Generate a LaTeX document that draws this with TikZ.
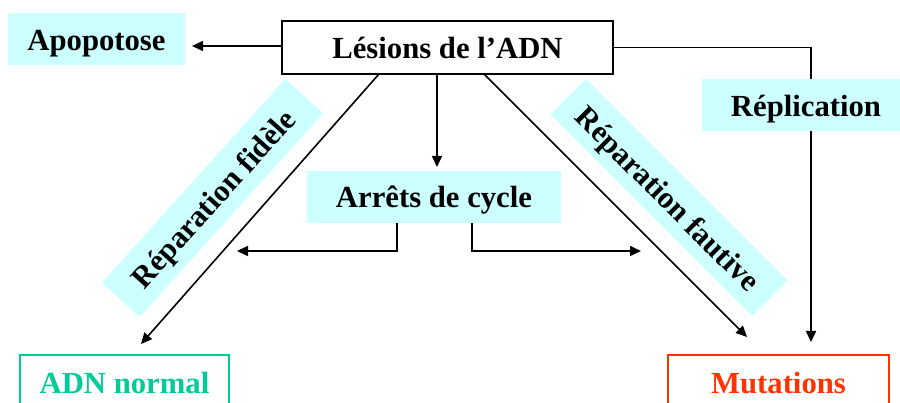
\documentclass[tikz,border=0pt]{standalone}
\usepackage{fontspec}
\setmainfont{Liberation Serif}
\usetikzlibrary{arrows.meta}
\definecolor{cybg}{HTML}{CCFFFF}
\definecolor{grn}{HTML}{00CC99}
\definecolor{rd}{HTML}{FF3300}
\tikzset{
  lbl/.style={font=\fontsize{30.7}{36}\selectfont\bfseries, inner sep=0pt, align=center, text height=37pt, text depth=14pt},
  cybox/.style={lbl, fill=cybg},
  wbox/.style={lbl, draw=black, fill=white, line width=1.6pt},
  conn/.style={line width=1.6pt, -{Triangle[length=11pt,width=10pt]}},
  plain/.style={line width=1.6pt}
}
\begin{document}
\begin{tikzpicture}[x=1pt,y=-1pt]
\useasboundingbox (0,0) rectangle (900,403);
% nodes
\node[cybox, text height=38pt, minimum width=177pt] (apo) at (96.5,39) {Apopotose};
\node[wbox, text height=38pt, text depth=15pt, minimum width=331pt] (les) at (447.5,47.5) {Lésions de l’ADN};
\node[cybox, text depth=15pt, minimum width=254pt] (arr) at (434,197) {Arrêts de cycle};
\node[lbl, draw=grn, text=grn, line width=1.6pt, text height=38pt, text depth=18pt, minimum width=209pt] (adn) at (124.5,383) {ADN normal};
\node[lbl, draw=rd, text=rd, line width=1.6pt, text height=38pt, text depth=18pt, minimum width=221pt] (mut) at (778.5,383) {Mutations};
% coordinates
\coordinate (c1) at (811,47.5);
\coordinate (c2) at (811,342);
\coordinate (t1) at (437,167);
\coordinate (d1) at (379,74);
\coordinate (e1) at (141,344);
\coordinate (d2) at (484,74);
\coordinate (e2) at (747,337);
\coordinate (b1) at (397,251);
\coordinate (l1) at (237,251);
\coordinate (b2) at (472,251);
\coordinate (r1) at (641,251);
\coordinate (ap) at (192,46);
% connectors
\draw[conn] (les.west |- ap) -- (ap);
\draw[conn] (les.east |- c1) -- (c1) -- (c2);
\draw[conn] (les.south -| t1) -- (t1);
\draw[conn] (d1) -- (e1);
\draw[conn] (d2) -- (e2);
\draw[conn] (arr.south -| b1) -- (b1) -- (l1);
\draw[conn] (arr.south -| b2) -- (b2) -- (r1);
% covering boxes
\node[cybox, text height=38pt, minimum width=208pt] (rep) at (806,105) {Réplication};
\node[cybox, minimum width=274pt, rotate=48] (fid) at (212.5,198) {Réparation fidèle};
\node[cybox, text depth=13pt, minimum width=285pt, rotate=-45] (fau) at (669,197.5) {Réparation fautive};
\end{tikzpicture}
\end{document}
